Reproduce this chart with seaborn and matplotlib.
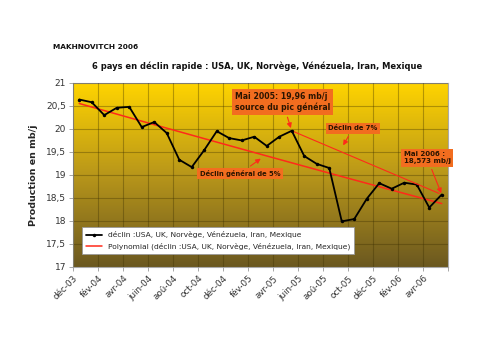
import numpy as np
import pandas as pd
import seaborn as sns
import matplotlib.pyplot as plt
from matplotlib.colors import LinearSegmentedColormap

# mois dec-03 -> mai-06
mois = ["déc-03", "jan-04", "fév-04", "mar-04", "avr-04", "mai-04", "juin-04", "juil-04",
        "aoû-04", "sep-04", "oct-04", "nov-04", "déc-04", "jan-05", "fév-05", "mar-05",
        "avr-05", "mai-05", "juin-05", "juil-05", "aoû-05", "sep-05", "oct-05", "nov-05",
        "déc-05", "jan-06", "fév-06", "mar-06", "avr-06", "mai-06"]
production = [20.64, 20.58, 20.30, 20.46, 20.48, 20.04, 20.15, 19.91, 19.33, 19.17,
              19.54, 19.95, 19.80, 19.75, 19.83, 19.63, 19.83, 19.96, 19.41, 19.24,
              19.15, 17.99, 18.04, 18.48, 18.82, 18.70, 18.83, 18.79, 18.29, 18.573]
serie = "déclin :USA, UK, Norvège, Vénézuela, Iran, Mexique"
tendance = "Polynomial (déclin :USA, UK, Norvège, Vénézuela, Iran, Mexique)"

df = pd.DataFrame({"mois": mois, "prod": production})
df["x"] = np.arange(len(mois)) + 0.5
# courbe de tendance polynomiale (ordre 2, comme Excel)
coef = np.polyfit(np.arange(1, len(mois) + 1), df["prod"], 2)
df["trend"] = np.polyval(coef, np.arange(1, len(mois) + 1))

sns.set_style("white")
plt.rcParams["font.family"] = ["DejaVu Sans"]

fig = plt.figure(figsize=(5, 3.53), dpi=100)
ax = fig.add_axes([0.146, 0.244, 0.75, 0.521])

# fond degrade jaune -> brun
cmap = LinearSegmentedColormap.from_list("fond", ["#6b5820", "#b8961a", "#ffd400"])
grad = np.linspace(0, 1, 256).reshape(-1, 1)
ax.imshow(grad, extent=[0, 1, 0, 1], transform=ax.transAxes, aspect="auto",
          cmap=cmap, origin="lower", zorder=0)

sns.lineplot(data=df, x="x", y="trend", ax=ax, color="#ff2a1a", lw=1.1,
             label=tendance, zorder=3)
sns.lineplot(data=df, x="x", y="prod", ax=ax, color="black", lw=1.3,
             marker="o", markersize=2.5, markeredgewidth=0, label=serie, zorder=4)

ax.set_xlim(0, 30)
ax.set_ylim(17, 21)
ax.set_xticks(np.arange(0, 31, 2))
ax.set_xticklabels(mois[::2] + [""], rotation=45, ha="right", rotation_mode="anchor",
                   fontsize=6.3, color="#333333")
yt = np.arange(17, 21.01, 0.5)
ax.set_yticks(yt)
ax.set_yticklabels([("%g" % v).replace(".", ",") for v in yt], fontsize=6.5, color="#333333")
ax.tick_params(axis="both", length=3, width=0.6, color="#999999", direction="out",
               bottom=True, left=True, pad=2)
ax.grid(True, color="#3a2e00", alpha=0.35, lw=0.8)
ax.set_axisbelow(False)
for sp in ax.spines.values():
    sp.set_color("#aaaaaa")
    sp.set_linewidth(0.8)
ax.set_xlabel("")
ax.set_ylabel("Production en mb/j", fontsize=6.8, fontweight="bold", labelpad=6)

leg = ax.legend(handles=ax.get_legend_handles_labels()[0][::-1],
                labels=[serie, tendance], loc="lower left", bbox_to_anchor=(0.024, 0.07),
                fontsize=5.4, frameon=True, fancybox=False, framealpha=1, borderpad=0.5,
                handlelength=2.2, labelspacing=0.6, borderaxespad=0)
leg.get_frame().set_edgecolor("#999999")
leg.get_frame().set_linewidth(0.6)
leg.set_zorder(6)

# annotations
boite = dict(boxstyle="square,pad=0.35", fc="#f26d1f", ec="none")
fl = dict(arrowstyle="-|>", color="#ff2a1a", lw=0.8, mutation_scale=7)
ttxt = dict(fontweight="bold", color="#2a1400", zorder=7)

ax.annotate("", xy=(df.x[29], df["prod"][29]), xytext=(df.x[17], df["prod"][17]),
            arrowprops=dict(arrowstyle="-", color="#ff2a1a", lw=0.8), zorder=5)
ax.annotate("Mai 2005: 19,96 mb/j\nsource du pic général", xy=(df.x[17], df["prod"][17]),
            xytext=(12.95, 20.59), va="center", ha="left", bbox=boite, fontsize=5.6,
            arrowprops=dict(fl, shrinkB=2), **ttxt)
ax.annotate("Déclin de 7%", xy=(21.5, 19.59), xytext=(22.4, 20.01), fontsize=4.9,
            va="center", ha="center", bbox=boite, arrowprops=fl, **ttxt)
ax.annotate("Déclin général de 5%", xy=(15.2, 19.39), xytext=(13.36, 19.03), fontsize=4.9,
            va="center", ha="center", bbox=boite, arrowprops=fl, **ttxt)
ax.annotate("Mai 2006 :\n18,573 mb/j", xy=(df.x[29], df["prod"][29]), xytext=(26.45, 19.37),
            va="center", ha="left", bbox=boite, fontsize=5.0, arrowprops=dict(fl, shrinkB=1),
            annotation_clip=False, **ttxt)

fig.text(0.106, 0.861, "MAKHNOVITCH 2006", fontsize=5.3, fontweight="bold", color="#111111")
fig.text(0.515, 0.813, "6 pays en déclin rapide : USA, UK, Norvège, Vénézuela, Iran, Mexique",
         fontsize=6.0, fontweight="bold", ha="center", va="center", color="#111111")

fig.savefig("out.png", dpi=100, facecolor="white")
